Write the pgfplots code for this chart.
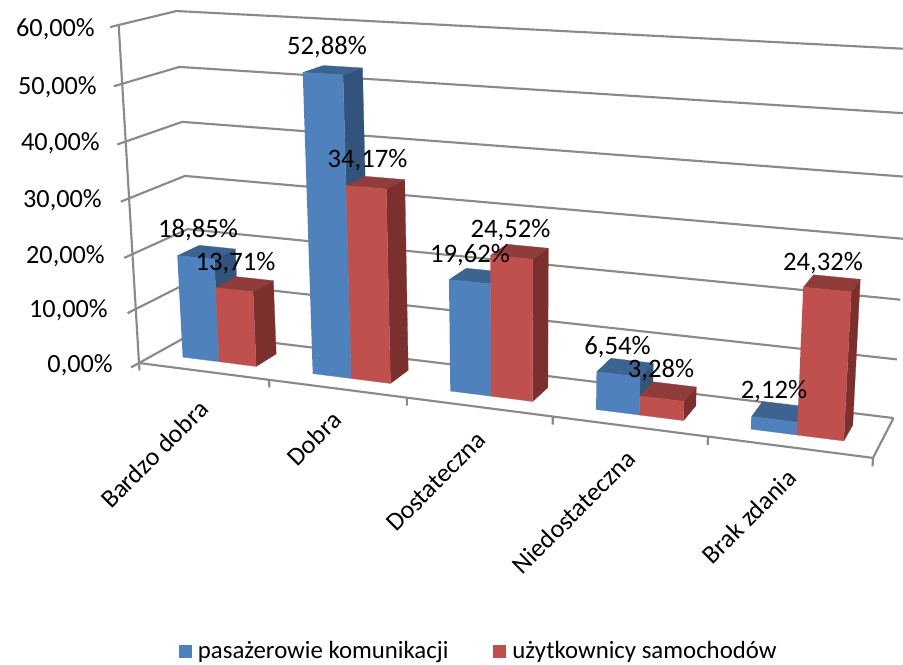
\documentclass[border=0pt]{standalone}
\usepackage{pgfplots}
\pgfplotsset{compat=1.18}
\usepackage{fontspec}
\setmainfont{Carlito}
\definecolor{bf}{HTML}{4F81BD}\definecolor{bt}{HTML}{3D6491}\definecolor{bs}{HTML}{32547C}
\definecolor{rf}{HTML}{C0504D}\definecolor{rt}{HTML}{8F3C3A}\definecolor{rs}{HTML}{7B302E}
\definecolor{gl}{HTML}{8A8A8A}
\pgfkeys{/pgfplots/table/proj/.style={row sep=\\,
  x expr={PU(\thisrow{X},\thisrow{D},\thisrow{Z})},
  y expr={PV(\thisrow{X},\thisrow{D},\thisrow{Z})}}}
% bar: X from, X to, value, front, top, side
\newcommand{\EBar}[6]{%
 \addplot[forget plot,fill=#6,draw=#6,line width=.2pt] table[proj]{X D Z\\ #2 0.3 0\\ #2 0.7 0\\ #2 0.7 #3\\ #2 0.3 #3\\};
 \addplot[forget plot,fill=#5,draw=#5,line width=.2pt] table[proj]{X D Z\\ #1 0.3 #3\\ #2 0.3 #3\\ #2 0.7 #3\\ #1 0.7 #3\\};
 \addplot[forget plot,fill=#4,draw=#4,line width=.2pt] table[proj]{X D Z\\ #1 0.3 0\\ #2 0.3 0\\ #2 0.3 #3\\ #1 0.3 #3\\};
}
\newcommand{\Grid}[1]{%
 \addplot[forget plot,gl,line width=1.6pt] table[proj]{X D Z\\ 0 -0.14 #1\\ 0 1 #1\\ 5 1 #1\\};
}
\newcommand{\Tick}[1]{%
 \addplot[forget plot,gl,line width=1.6pt] table[proj]{X D Z\\ #1 0 0\\ #1 0 -1.4\\};
}
\newcommand{\Val}[3]{\node[anchor=base,font=\fontsize{20}{20}\selectfont,inner sep=0pt] at (axis cs:#1,#2) {#3};}
\newcommand{\YL}[3]{\node[anchor=base east,font=\fontsize{19.7}{20}\selectfont,inner sep=0pt] at (axis cs:#1,#2) {#3};}
\newcommand{\CL}[3]{\node[anchor=base east,rotate=45,font=\fontsize{19.4}{20}\selectfont,inner sep=0pt] at (axis cs:#1,#2) {#3};}
\begin{document}
\begin{tikzpicture}
\useasboundingbox (0,0) rectangle (677.25pt,498pt);
\begin{axis}[
  declare function={
    WW(\a,\b,\c)=1-0.027672*\a+0.05182*\b-0.0008315*\c;
    PU(\a,\b,\c)=(139+122.64*\a+64*\b-0.43733*\c)/WW(\a,\b,\c);
    PV(\a,\b,\c)=(363+6.31*\a-12.7*\b-5.6542*\c)/WW(\a,\b,\c);
  },
  scale only axis,width=677.25pt,height=498pt,
  xmin=0,xmax=903,ymin=0,ymax=664,y dir=reverse,
  hide axis,
  legend columns=2,
  legend style={draw=none,fill=none,at={(axis cs:479,651)},anchor=center,
    font=\fontsize{18.6}{20}\selectfont,inner sep=0pt,
    /tikz/every even column/.append style={column sep=31.5pt}},
  legend image code/.code={\fill[#1] (0pt,-4.5pt) rectangle (9pt,4.5pt);\path (12pt,0pt);},
]
\Grid{0}\Grid{10}\Grid{20}\Grid{30}\Grid{40}\Grid{50}\Grid{60}
\addplot[forget plot,gl,line width=1.6pt] table[proj]{X D Z\\ 0 0 60\\ 0 0 0\\ 5 0 0\\ 5 1 0\\};
\Tick{0}\Tick{1}\Tick{2}\Tick{3}\Tick{4}\Tick{5}
\EBar{0.214}{0.5}{18.85}{bf}{bt}{bs}
\EBar{0.5}{0.786}{13.71}{rf}{rt}{rs}
\EBar{1.214}{1.5}{52.88}{bf}{bt}{bs}
\EBar{1.5}{1.786}{34.17}{rf}{rt}{rs}
\EBar{2.214}{2.5}{19.62}{bf}{bt}{bs}
\EBar{2.5}{2.786}{24.52}{rf}{rt}{rs}
\EBar{3.214}{3.5}{6.54}{bf}{bt}{bs}
\EBar{3.5}{3.786}{3.28}{rf}{rt}{rs}
\EBar{4.214}{4.5}{2.12}{bf}{bt}{bs}
\EBar{4.5}{4.786}{24.32}{rf}{rt}{rs}
\Val{327}{54}{52,88\%}
\Val{367.5}{167}{34,17\%}
\Val{198}{237}{18,85\%}
\Val{235.5}{270}{13,71\%}
\Val{470}{262}{19,62\%}
\Val{510.5}{237}{24,52\%}
\Val{617.5}{354}{6,54\%}
\Val{661}{377}{3,28\%}
\Val{774}{398}{2,12\%}
\Val{823}{270}{24,32\%}
\YL{95}{36}{60,00\%}
\YL{97}{94}{50,00\%}
\YL{100}{150}{40,00\%}
\YL{102}{207}{30,00\%}
\YL{105}{263}{20,00\%}
\YL{108}{317}{10,00\%}
\YL{113}{372}{0,00\%}
\CL{210}{411}{Bardzo dobra}
\CL{343}{422}{Dobra}
\CL{487}{442}{Dostateczna}
\CL{637}{461}{Niedostateczna}
\CL{798}{480}{Brak zdania}
\addlegendimage{bf}\addlegendentry{pasażerowie komunikacji}
\addlegendimage{rf}\addlegendentry{użytkownicy samochodów}
\end{axis}
\end{tikzpicture}
\end{document}
